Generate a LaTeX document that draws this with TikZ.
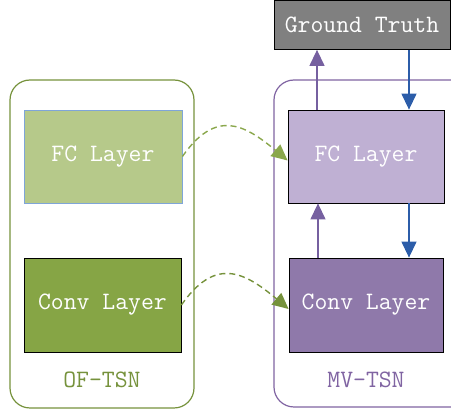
\documentclass[tikz,border=0pt]{standalone}
\usetikzlibrary{arrows.meta}

\definecolor{ofline}{HTML}{76923C}
\definecolor{oflight}{HTML}{B6C98A}
\definecolor{ofdark}{HTML}{86A545}
\definecolor{ofdash}{HTML}{8AA74C}
\definecolor{mvline}{HTML}{8064A2}
\definecolor{mvlight}{HTML}{BFB0D3}
\definecolor{mvdark}{HTML}{8F79AA}
\definecolor{mvarrow}{HTML}{7660A0}
\definecolor{gtarrow}{HTML}{2C5DA9}
\definecolor{fcborder}{HTML}{7FA5D8}

\tikzset{
	layer/.style={draw=black, line width=0.8pt, inner sep=0pt, text=white,
		font=\fontsize{25}{27}\selectfont\ttfamily},
	netbox/.style={line width=1.2pt, rounded corners=20pt},
	tip/.style={-{Triangle[length=16pt,width=15pt]}, line width=1.3pt},
	link/.style={tip, dashed, dash pattern=on 6pt off 4pt, line width=1.4pt}
}

\begin{document}
\begin{tikzpicture}[x=1pt, y=1pt]
	\useasboundingbox (0,0) rectangle (451,410);

	% the two networks
	\draw[netbox, draw=ofline] (10,2) rectangle (194,330);
	\draw[netbox, draw=mvline] (274,3) rectangle (472,330);

	\node[layer, fill=oflight, draw=fcborder, minimum width=158pt, minimum height=93pt] (fcl) at (103,253.5) {FC Layer};
	\node[layer, fill=ofdark, minimum width=157pt, minimum height=94pt] (convl) at (102.5,105) {Conv Layer};
	\node[layer, fill=mvlight, minimum width=156pt, minimum height=93pt] (fcr) at (366,253.5) {FC Layer};
	\node[layer, fill=mvdark, minimum width=154pt, minimum height=94pt] (convr) at (366,105) {Conv Layer};
	\node[layer, fill=black!50, minimum width=176pt, minimum height=49pt] (gt) at (362,385) {Ground Truth};

	\node[text=ofline, font=\fontsize{25}{27}\selectfont\ttfamily] (oflabel) at (102,30) {OF-TSN};
	\node[text=mvline, font=\fontsize{25}{27}\selectfont\ttfamily] (mvlabel) at (366,30) {MV-TSN};

	% forward and backward passes
	\draw[tip, mvarrow] ([xshift=-49pt]fcr.north) -- ([xshift=-45pt]gt.south);
	\draw[tip, gtarrow] ([xshift=47pt]gt.south) -- ([xshift=43pt]fcr.north);
	\draw[tip, mvarrow] ([xshift=-48pt]convr.north) -- ([xshift=-48pt]fcr.south);
	\draw[tip, gtarrow] ([xshift=43pt]fcr.south) -- ([xshift=43pt]convr.north);

	% transfer between the streams
	\draw[link, ofdash] (fcl.east) to[out=55, in=140, looseness=1.4] ([yshift=-4pt]fcr.west);
	\draw[link, ofline] (convl.east) to[out=55, in=140, looseness=1.4] ([yshift=-4pt]convr.west);
\end{tikzpicture}
\end{document}
